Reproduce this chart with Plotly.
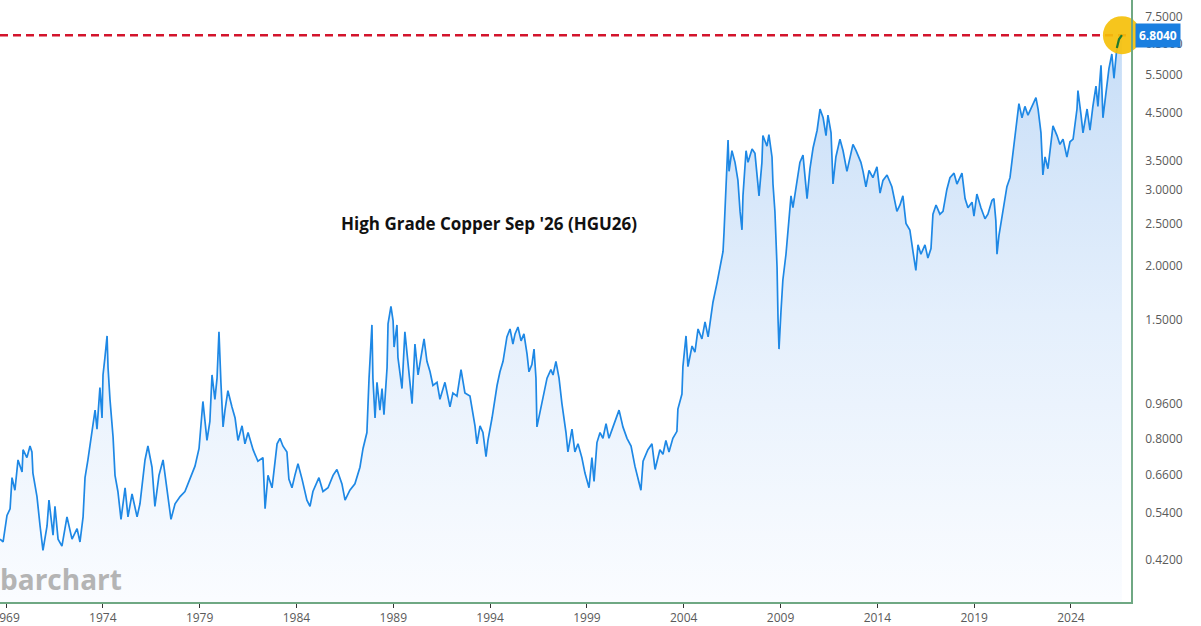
import math
import pandas as pd
import plotly.graph_objects as go

# copper futures, decimal year and price in $/lb
years = [
    1968.69, 1968.85, 1969.05, 1969.21, 1969.31, 1969.46, 1969.62, 1969.83, 1969.88, 1970.08,
    1970.24, 1970.34, 1970.39, 1970.60, 1970.76, 1970.91, 1971.12, 1971.22, 1971.43, 1971.53,
    1971.69, 1971.89, 1972.15, 1972.41, 1972.67, 1972.82, 1972.98, 1973.08, 1973.23, 1973.44,
    1973.60, 1973.70, 1973.85, 1973.96, 1974.01, 1974.11, 1974.22, 1974.27, 1974.37, 1974.53,
    1974.63, 1974.78, 1974.94, 1975.15, 1975.30, 1975.51, 1975.77, 1975.92, 1976.18, 1976.33,
    1976.54, 1976.69, 1976.90, 1977.11, 1977.31, 1977.52, 1977.73, 1977.99, 1978.24, 1978.50,
    1978.76, 1978.97, 1979.12, 1979.17, 1979.38, 1979.53, 1979.64, 1979.79, 1979.90, 1980.00,
    1980.10, 1980.21, 1980.31, 1980.46, 1980.67, 1980.83, 1980.98, 1981.19, 1981.34, 1981.50,
    1981.76, 1982.01, 1982.27, 1982.38, 1982.53, 1982.74, 1983.00, 1983.15, 1983.30, 1983.51,
    1983.61, 1983.77, 1983.92, 1984.08, 1984.29, 1984.54, 1984.70, 1984.85, 1985.16, 1985.37,
    1985.63, 1985.89, 1986.09, 1986.35, 1986.51, 1986.76, 1987.02, 1987.28, 1987.44, 1987.64,
    1987.75, 1987.90, 1987.95, 1988.06, 1988.16, 1988.31, 1988.42, 1988.52, 1988.68, 1988.73,
    1988.88, 1988.99, 1989.04, 1989.19, 1989.24, 1989.45, 1989.60, 1989.76, 1989.97, 1990.12,
    1990.28, 1990.43, 1990.59, 1990.74, 1990.90, 1991.05, 1991.26, 1991.41, 1991.67, 1991.93,
    1992.08, 1992.29, 1992.50, 1992.70, 1992.96, 1993.22, 1993.32, 1993.48, 1993.63, 1993.79,
    1993.89, 1994.10, 1994.36, 1994.51, 1994.67, 1994.87, 1995.03, 1995.18, 1995.29, 1995.44,
    1995.60, 1995.75, 1995.91, 1996.01, 1996.16, 1996.27, 1996.37, 1996.42, 1996.63, 1996.78,
    1996.94, 1997.14, 1997.25, 1997.40, 1997.56, 1997.71, 1997.92, 1998.02, 1998.23, 1998.38,
    1998.54, 1998.74, 1998.90, 1999.11, 1999.26, 1999.37, 1999.52, 1999.68, 1999.83, 1999.99,
    2000.14, 2000.35, 2000.66, 2000.86, 2001.07, 2001.28, 2001.48, 2001.79, 2001.90, 2002.15,
    2002.36, 2002.52, 2002.77, 2002.93, 2003.08, 2003.24, 2003.44, 2003.65, 2003.70, 2003.91,
    2003.96, 2004.12, 2004.22, 2004.43, 2004.58, 2004.74, 2004.94, 2005.10, 2005.26, 2005.41,
    2005.51, 2005.72, 2005.87, 2006.03, 2006.08, 2006.18, 2006.29, 2006.34, 2006.49, 2006.65,
    2006.80, 2006.91, 2007.01, 2007.06, 2007.22, 2007.32, 2007.53, 2007.68, 2007.78, 2007.89,
    2008.04, 2008.09, 2008.30, 2008.40, 2008.56, 2008.61, 2008.71, 2008.82, 2008.87, 2008.92,
    2009.02, 2009.12, 2009.28, 2009.38, 2009.54, 2009.64, 2009.85, 2010.00, 2010.16, 2010.26,
    2010.37, 2010.52, 2010.68, 2010.89, 2011.04, 2011.20, 2011.35, 2011.45, 2011.61, 2011.71,
    2011.86, 2012.07, 2012.23, 2012.43, 2012.59, 2012.74, 2012.90, 2013.15, 2013.26, 2013.41,
    2013.57, 2013.77, 2013.98, 2014.14, 2014.29, 2014.50, 2014.75, 2015.01, 2015.17, 2015.32,
    2015.48, 2015.68, 2015.84, 2015.99, 2016.10, 2016.25, 2016.46, 2016.61, 2016.77, 2016.87,
    2017.03, 2017.23, 2017.39, 2017.59, 2017.75, 2017.96, 2018.11, 2018.37, 2018.53, 2018.68,
    2018.89, 2018.99, 2019.14, 2019.35, 2019.56, 2019.71, 2019.92, 2020.02, 2020.12, 2020.18,
    2020.28, 2020.49, 2020.69, 2020.85, 2021.00, 2021.16, 2021.21, 2021.31, 2021.47, 2021.62,
    2021.78, 2021.99, 2022.19, 2022.30, 2022.45, 2022.55, 2022.66, 2022.81, 2022.97, 2023.07,
    2023.28, 2023.43, 2023.59, 2023.79, 2023.95, 2024.11, 2024.31, 2024.36, 2024.52, 2024.62,
    2024.83, 2024.98, 2025.13, 2025.29, 2025.39, 2025.55, 2025.65, 2025.80, 2025.96, 2026.11,
    2026.22, 2026.37, 2026.48, 2026.63,
]
prices = [
    0.469, 0.462, 0.532, 0.551, 0.650, 0.608, 0.714, 0.670, 0.754, 0.723,
    0.769, 0.745, 0.666, 0.588, 0.503, 0.442, 0.503, 0.577, 0.479, 0.558,
    0.469, 0.452, 0.528, 0.469, 0.496, 0.462, 0.528, 0.650, 0.714, 0.841,
    0.930, 0.841, 1.048, 0.892, 1.121, 1.231, 1.379, 1.166, 0.985, 0.806,
    0.658, 0.604, 0.521, 0.616, 0.528, 0.596, 0.528, 0.566, 0.714, 0.769,
    0.687, 0.558, 0.658, 0.714, 0.604, 0.521, 0.566, 0.588, 0.604, 0.645,
    0.691, 0.759, 0.946, 0.974, 0.792, 0.876, 1.121, 0.985, 1.102, 1.409,
    1.078, 0.851, 0.930, 1.031, 0.946, 0.892, 0.792, 0.856, 0.778, 0.826,
    0.754, 0.709, 0.723, 0.551, 0.658, 0.616, 0.778, 0.801, 0.769, 0.745,
    0.645, 0.616, 0.658, 0.700, 0.645, 0.577, 0.558, 0.604, 0.650, 0.604,
    0.616, 0.658, 0.679, 0.629, 0.577, 0.608, 0.629, 0.687, 0.759, 0.826,
    1.102, 1.462, 1.102, 0.892, 1.078, 0.930, 1.043, 0.908, 1.166, 1.470,
    1.614, 1.494, 1.300, 1.462, 1.231, 1.043, 1.409, 1.205, 0.963, 1.321,
    1.121, 1.231, 1.357, 1.205, 1.140, 1.060, 1.078, 0.985, 1.078, 0.946,
    1.019, 1.002, 1.153, 1.019, 1.002, 0.856, 0.778, 0.856, 0.826, 0.727,
    0.792, 0.892, 1.060, 1.140, 1.205, 1.372, 1.431, 1.321, 1.394, 1.446,
    1.343, 1.394, 1.252, 1.140, 1.185, 1.286, 1.102, 0.851, 0.946, 1.002,
    1.102, 1.153, 1.121, 1.205, 1.102, 0.963, 0.826, 0.745, 0.841, 0.745,
    0.778, 0.723, 0.666, 0.616, 0.723, 0.637, 0.783, 0.826, 0.801, 0.866,
    0.801, 0.851, 0.930, 0.851, 0.801, 0.769, 0.691, 0.608, 0.709, 0.754,
    0.778, 0.679, 0.754, 0.736, 0.792, 0.745, 0.801, 0.831, 0.935, 1.013,
    1.172, 1.379, 1.172, 1.307, 1.266, 1.431, 1.357, 1.486, 1.372, 1.534,
    1.649, 1.828, 1.983, 2.159, 2.385, 3.044, 3.901, 3.303, 3.685, 3.464,
    3.148, 2.670, 2.420, 2.900, 3.685, 3.464, 3.720, 3.633, 3.194, 2.900,
    3.464, 3.994, 3.774, 4.013, 3.565, 3.088, 2.670, 1.983, 1.509, 1.286,
    1.565, 1.856, 2.127, 2.420, 2.900, 2.723, 3.148, 3.464, 3.599, 3.148,
    2.858, 3.350, 3.738, 4.108, 4.598, 4.388, 3.994, 4.450, 4.051, 3.088,
    3.565, 3.918, 3.685, 3.303, 3.565, 3.810, 3.685, 3.464, 3.303, 3.044,
    3.318, 3.194, 3.382, 2.943, 3.148, 3.240, 3.044, 2.670, 2.763, 2.900,
    2.506, 2.420, 2.159, 1.953, 2.236, 2.127, 2.236, 2.085, 2.192, 2.631,
    2.763, 2.631, 2.670, 3.000, 3.194, 3.271, 3.088, 3.271, 2.858, 2.723,
    2.804, 2.605, 2.928, 2.723, 2.568, 2.631, 2.831, 2.858, 2.543, 2.127,
    2.350, 2.670, 3.044, 3.194, 3.633, 4.051, 4.246, 4.730, 4.388, 4.663,
    4.450, 4.663, 4.886, 4.598, 4.051, 3.240, 3.565, 3.350, 3.864, 4.206,
    3.994, 3.810, 3.918, 3.565, 3.864, 3.918, 4.598, 5.070, 4.450, 4.051,
    4.598, 4.108, 4.663, 5.190, 4.663, 5.800, 4.388, 5.048, 5.695, 6.158,
    5.412, 6.359, 6.657, 6.804,
]

tick_years = [1969, 1974, 1979, 1984, 1989, 1994, 1999, 2004, 2009, 2014, 2019, 2024]
price_ticks = [0.42, 0.54, 0.66, 0.80, 0.96, 1.5, 2.0, 2.5, 3.0, 3.5, 4.5, 5.5, 6.5, 7.5]
last_price = 6.804
chart_title = "High Grade Copper Sep '26 (HGU26)"


def to_date(y):
    start = pd.Timestamp(int(y), 1, 1)
    end = pd.Timestamp(int(y) + 1, 1, 1)
    return start + (end - start) * (y - int(y))


dates = [to_date(y) for y in years]
axis_green = "#6fa883"

fig = go.Figure()

# main price line with the pale blue fill underneath (darker towards the top)
fig.add_trace(go.Scatter(
    x=dates, y=prices, mode="lines",
    line=dict(color="#1e88e5", width=1.7),
    fill="tozeroy",
    fillgradient=dict(type="vertical", start=0.34, stop=7.0,
                      colorscale=[[0, "#fafcff"], [0.5, "#e4effc"], [1, "#c6ddf7"]]),
    hoverinfo="skip", showlegend=False,
))

# highlight circle on the latest price
fig.add_trace(go.Scatter(
    x=[dates[-1]], y=[prices[-1]], mode="markers",
    marker=dict(size=38, color="rgba(245,192,10,0.92)", line=dict(width=0)),
    cliponaxis=False, hoverinfo="skip", showlegend=False,
))

# last few bars are drawn green
fig.add_trace(go.Scatter(
    x=dates[-3:], y=prices[-3:], mode="lines",
    line=dict(color="#1d7a2f", width=2.2),
    hoverinfo="skip", showlegend=False,
))

# dashed line at the last price
fig.add_shape(type="line", xref="paper", x0=0, x1=1, yref="y", y0=last_price, y1=last_price,
              line=dict(color="#d3142c", width=2.5, dash="8px,5px"), layer="below")

# price badge on the right axis
fig.add_annotation(xref="paper", x=1, yref="y", y=math.log10(last_price),
                   text="<b>%.4f</b>" % last_price, showarrow=False,
                   xanchor="left", xshift=4, bgcolor="#1a7fe0", borderpad=3,
                   font=dict(color="white", size=12, family="Open Sans"))

fig.add_annotation(xref="paper", yref="paper", x=0.432, y=0.628, text="<b>" + chart_title + "</b>",
                   showarrow=False, font=dict(size=17, color="#111111", family="Open Sans"))

# watermark
fig.add_annotation(xref="paper", yref="paper", x=0, y=0, xanchor="left", yanchor="bottom",
                   text="<b>barchart</b>", showarrow=False, yshift=2, xshift=-2,
                   font=dict(size=28, color="#b4b4b4", family="Open Sans"))

fig.update_xaxes(
    type="date", range=[to_date(1968.69), to_date(2027.10)],
    tickvals=[to_date(y) for y in tick_years], ticktext=[str(y) for y in tick_years],
    showgrid=False, zeroline=False, showline=True, linecolor=axis_green, linewidth=1.5,
    ticks="outside", ticklen=4, tickcolor="#333333",
    ticklabeloverflow="allow", automargin=False,
    tickfont=dict(size=12, color="#5a5a5a", family="Open Sans"),
)
fig.update_yaxes(
    type="log", range=[math.log10(0.336), math.log10(8.2)], side="right",
    tickvals=price_ticks, ticktext=["%.4f" % v for v in price_ticks],
    showgrid=False, zeroline=False, showline=True, linecolor=axis_green, linewidth=1.5,
    ticks="", ticklabelstandoff=10, automargin=False,
    tickfont=dict(size=12, color="#5a5a5a", family="Open Sans"),
)
fig.update_layout(
    width=1201, height=626,
    margin=dict(l=0, r=70, t=0, b=24),
    plot_bgcolor="white", paper_bgcolor="white",
    hovermode=False,
)

fig.write_html("out.html", config={"displayModeBar": False},
               post_script="document.body.style.margin='0';")
